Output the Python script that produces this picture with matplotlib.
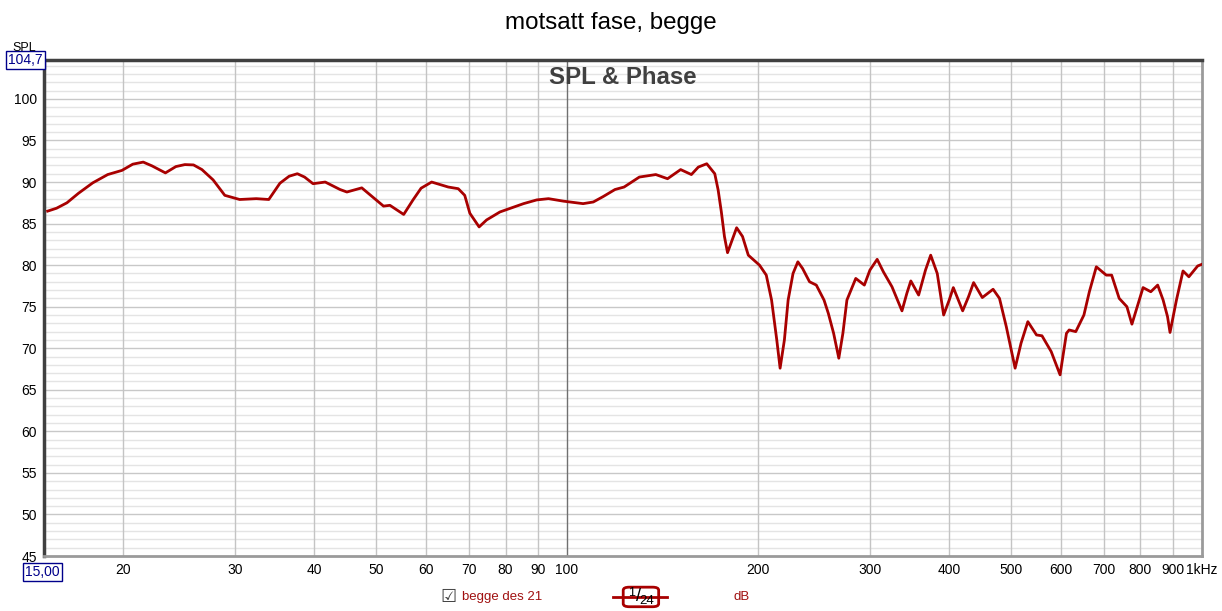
# -*- coding: utf-8 -*-
"""
    REW style SPL plot, motsatt fase, begge.
"""

import matplotlib.pyplot as plt
from matplotlib.patches import FancyBboxPatch

# DATA
freq_hz = [15.2, 15.7, 16.3, 17.0, 17.9, 18.9, 19.9, 20.7, 21.5, 22.2, 23.3,
           24.2, 25.0, 25.8, 26.6, 27.7, 28.9, 30.5, 32.4, 33.9, 35.3, 36.5,
           37.6, 38.6, 39.8, 41.6, 43.9, 45.0, 47.5, 51.4, 52.6, 55.3, 57.2,
           58.9, 61.2, 65.0, 67.4, 69.0, 70.3, 72.7, 74.7, 78.4, 85.4, 89.6,
           93.5, 98.7, 106, 110, 114, 119, 123, 130, 138, 144, 151, 157, 161,
           166, 170.9, 173, 175, 177, 179, 182, 185, 189, 193, 197, 201, 206,
           210, 214, 216.6, 220, 223, 227, 231, 235, 241, 247, 254, 258, 263,
           268, 272, 276, 285, 294, 300, 308, 315, 325, 337, 343, 348, 358,
           367, 374, 383, 392, 400, 406, 420, 429, 437, 451, 469, 480, 492,
           508, 519, 532, 549, 560, 579, 598, 612, 618, 633, 652, 665, 682,
           707, 721, 741, 762, 776, 797, 808, 831, 852, 869, 883, 891, 912,
           934, 954, 985, 1000]
spl_db = [86.5, 86.85, 87.5, 88.65, 89.9, 90.9, 91.4, 92.15, 92.4, 91.94,
          91.1, 91.86, 92.1, 92.06, 91.5, 90.26, 88.4, 87.9, 88.0, 87.9,
          89.86, 90.7, 91.0, 90.6, 89.8, 90.0, 89.1, 88.8, 89.3, 87.1, 87.2,
          86.1, 87.85, 89.26, 90.0, 89.4, 89.2, 88.4, 86.24, 84.6, 85.44,
          86.4, 87.4, 87.85, 88.0, 87.7, 87.4, 87.6, 88.25, 89.1, 89.4, 90.6,
          90.9, 90.4, 91.5, 90.9, 91.8, 92.2, 91.0, 89.05, 86.44, 83.45, 81.5,
          83.03, 84.5, 83.45, 81.2, 80.6, 80.0, 78.8, 75.8, 71.0, 67.6, 71.0,
          75.8, 79.0, 80.4, 79.6, 78.0, 77.6, 75.8, 74.2, 71.8, 68.8, 71.8,
          75.8, 78.4, 77.6, 79.4, 80.7, 79.2, 77.4, 74.5, 76.6, 78.1, 76.4,
          79.4, 81.2, 79.0, 74.0, 75.8, 77.3, 74.5, 76.2, 77.9, 76.1, 77.1,
          76.0, 72.6, 67.6, 70.6, 73.2, 71.6, 71.5, 69.6, 66.8, 71.8, 72.2,
          72.0, 74.0, 76.8, 79.8, 78.8, 78.8, 76.0, 75.0, 72.9, 75.8, 77.3,
          76.8, 77.6, 75.8, 73.8, 71.9, 75.8, 79.3, 78.6, 79.9, 80.1]

x_ticks = [20, 30, 40, 50, 60, 70, 80, 90, 100, 200, 300, 400, 500, 600,
           700, 800, 900, 1000]
x_labels = ["20", "30", "40", "50", "60", "70", "80", "90", "100", "200",
            "300", "400", "500", "600", "700", "800", "900", "1kHz"]
y_ticks = list(range(45, 101, 5))
x_min, x_max = 15.0, 1000.0
y_min, y_max = 45.0, 104.7

plt.rcParams['font.family'] = ['Liberation Sans', 'DejaVu Sans']

fig = plt.figure(figsize=(12.22, 6.11), dpi=100)
ax = fig.add_axes([0.036, 0.09, 0.9475, 0.812])

# grid
for v in range(46, 105):
    major = v % 5 == 0
    ax.axhline(v, color="#c8c8c8" if major else "#e4e4e4", lw=1.0, zorder=0)
for f in x_ticks[:-1]:
    ax.axvline(f, color="#707070" if f == 100 else "#c4c4c4", lw=1.0, zorder=0)

ax.plot(freq_hz, spl_db, color="#a80000", lw=2.0, solid_joinstyle="round",
        zorder=3)

ax.set_xscale("log")
ax.set_xlim(x_min, x_max)
ax.set_ylim(y_min, y_max)
ax.set_xticks(x_ticks)
ax.set_xticklabels(x_labels)
ax.xaxis.set_minor_locator(plt.NullLocator())
ax.set_yticks(y_ticks)
ax.tick_params(length=0, labelsize=10, pad=5)

for side in ("left", "top"):
    ax.spines[side].set_color("#404040")
    ax.spines[side].set_linewidth(2.5)
for side in ("right", "bottom"):
    ax.spines[side].set_color("#9a9a9a")
    ax.spines[side].set_linewidth(2.0)

# boxed range labels
box = dict(boxstyle="square,pad=0.15", fc="white", ec="#00008b", lw=1)
fig.text(0.035, 0.9018, "104,7", ha="right", va="center", fontsize=10,
         color="#00008b", bbox=box)
fig.text(0.035, 0.064, "15,00", ha="center", va="center", fontsize=10,
         color="#00008b", bbox=box)
fig.text(0.02, 0.922, "SPL", ha="center", va="center", fontsize=9)

fig.text(0.5, 0.962, "motsatt fase, begge", ha="center", va="center",
         fontsize=17.4)
ax.text(0.5, 0.988, "SPL & Phase", transform=ax.transAxes, ha="center",
        va="top", fontsize=17.3, fontweight="bold", color="#404040")

# legend row
fig.text(0.3667, 0.023, "\u2611", ha="center", va="center", fontsize=13,
         color="#404040", family=["DejaVu Sans"])
fig.text(0.378, 0.023, "begge des 21", ha="left", va="center", fontsize=9.5,
         color="#a01010")
fig.add_artist(plt.Line2D([0.502, 0.546], [0.023, 0.023], color="#a80000",
                          lw=2, transform=fig.transFigure))
fig.add_artist(FancyBboxPatch((0.512, 0.009), 0.025, 0.028,
                              boxstyle="round,pad=0.002,rounding_size=0.005",
                              fc="white", ec="#a80000", lw=2,
                              transform=fig.transFigure))
fig.text(0.5172, 0.029, "1", ha="center", va="center", fontsize=9)
fig.text(0.5222, 0.023, "/", ha="center", va="center", fontsize=13)
fig.text(0.5295, 0.017, "24", ha="center", va="center", fontsize=9.5)
fig.text(0.6, 0.023, "dB", ha="left", va="center", fontsize=9.5,
         color="#a01010")

fig.savefig("out.png", dpi=100)
